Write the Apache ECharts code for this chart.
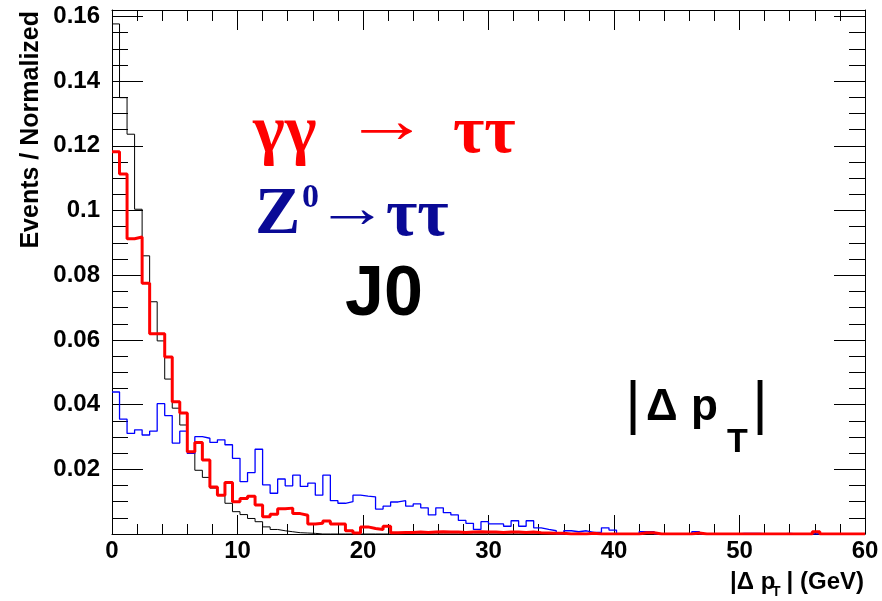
<!DOCTYPE html>
<html>
<head>
<meta charset="utf-8">
<script src="https://cdn.jsdelivr.net/npm/echarts@6/dist/echarts.min.js"></script>
<style>
  html, body { margin: 0; padding: 0; background: #fff; }
  #chart { width: 882px; height: 601px; }
</style>
</head>
<body>
<div id="chart"></div>
<script>
// 100 bins of 0.6 GeV between 0 and 60
var binWidth = 0.6;
var xTickLabels = ['0', '10', '20', '30', '40', '50', '60'];
var yTickLabels = ['0.02', '0.04', '0.06', '0.08', '0.1', '0.12', '0.14', '0.16'];

// J0 (black)
var blackJ0 = [
  0.1577, 0.1349, 0.1236, 0.1004, 0.0860, 0.0718, 0.0597, 0.0479, 0.0389, 0.0337,
  0.0254, 0.0197, 0.0175, 0.0142, 0.0120, 0.0095, 0.0069, 0.0060, 0.0048, 0.0038,
  0.0022, 0.0014, 0.0010, 0.0007, 0.0004, 0.0003, 0.0002, 0, 0, 0,
  0, 0, 0, 0, 0, 0, 0, 0, 0, 0,
  0, 0, 0, 0, 0, 0, 0, 0, 0, 0,
  0, 0, 0, 0, 0, 0, 0, 0, 0, 0,
  0, 0, 0, 0, 0, 0, 0, 0, 0, 0,
  0, 0, 0, 0, 0, 0, 0, 0, 0, 0,
  0, 0, 0, 0, 0, 0, 0, 0, 0, 0,
  0, 0, 0, 0, 0, 0, 0, 0, 0, 0
];

// gamma gamma -> tau tau (red)
var redGG = [
  0.1182, 0.1113, 0.0913, 0.0918, 0.0775, 0.0619, 0.0619, 0.0547, 0.0409, 0.0374,
  0.0254, 0.0283, 0.0229, 0.0145, 0.0120, 0.0159, 0.0100, 0.0110, 0.0117, 0.0090,
  0.0053, 0.0061, 0.0078, 0.0080, 0.0063, 0.0058, 0.0031, 0.0033, 0.0040, 0.0031,
  0.0031, 0.0010, 0.0003, 0.0022, 0.0017, 0.0014, 0.0024, 0.0004, 0.0005, 0.0005,
  0.0006, 0.0005, 0.0006, 0.0007, 0.0006, 0.0006, 0.0005, 0.0006, 0.0007, 0.0006,
  0.0006, 0.0005, 0.0006, 0.0006, 0.0005, 0.0006, 0.0004, 0.0003, 0.0002, 0.0002,
  0, 0.0001, 0, 0.0002, 0, 0, 0, 0, 0, 0,
  0.0004, 0.0004, 0, 0, 0, 0, 0, 0.0003, 0, 0,
  0, 0, 0, 0, 0, 0, 0, 0, 0, 0,
  0, 0, 0, 0.0007, 0, 0, 0, 0, 0, 0
];

// Z0 -> tau tau (blue)
var blueZ = [
  0.0439, 0.0355, 0.0311, 0.0322, 0.0306, 0.0318, 0.0403, 0.0366, 0.0281, 0.0318,
  0.0249, 0.0301, 0.0296, 0.0283, 0.0291, 0.0276, 0.0234, 0.0162, 0.0190, 0.0262,
  0.0152, 0.0126, 0.0170, 0.0149, 0.0182, 0.0147, 0.0157, 0.0120, 0.0182, 0.0103,
  0.0095, 0.0100, 0.0120, 0.0117, 0.0115, 0.0077, 0.0086, 0.0099, 0.0103, 0.0086,
  0.0093, 0.0081, 0.0059, 0.0081, 0.0066, 0.0059, 0.0042, 0.0033, 0.0014, 0.0038,
  0.0031, 0.0031, 0.0024, 0.0041, 0.0024, 0.0041, 0.0019, 0.0014, 0.0010, 0,
  0.0010, 0.0007, 0.0010, 0.0005, 0.0005, 0.0019, 0.0012, 0, 0, 0,
  0.0007, 0.0007, 0, 0, 0, 0, 0, 0.0007, 0, 0,
  0, 0, 0, 0.0002, 0.0002, 0.0002, 0, 0, 0, 0.0002,
  0, 0, 0, 0, 0, 0, 0, 0, 0, 0
];

// left bin edge + value, closed at the last edge
function toSteps(vals) {
  var pts = vals.map(function (v, i) { return [+(i * binWidth).toFixed(1), v]; });
  pts.push([+(vals.length * binWidth).toFixed(1), vals[vals.length - 1]]);
  return pts;
}

function txt(text, x, y, size, color, family, weight, align, rotation, scaleX) {
  return {
    type: 'text', x: x, y: y, rotation: rotation || 0, scaleX: scaleX || 1, silent: true,
    style: {
      text: text, fill: color, fontSize: size, fontFamily: family, fontWeight: weight,
      align: align || 'left', textAlign: align || 'left',
      verticalAlign: 'middle', textVerticalAlign: 'middle'
    }
  };
}

var sans = 'Liberation Sans';
var serif = 'Liberation Serif';
var tickColor = '#000';

function xAxisDef(pos, showLabel, tickLen, minorLen) {
  return {
    type: 'value', position: pos, min: 0, max: 60, interval: 10,
    axisLine: { show: true, onZero: false, lineStyle: { color: tickColor, width: 1 } },
    axisTick: { show: true, inside: true, length: tickLen, lineStyle: { color: tickColor, width: 1 } },
    minorTick: { show: true, splitNumber: 5, length: minorLen, lineStyle: { color: tickColor, width: 1 } },
    splitLine: { show: false },
    axisLabel: {
      show: showLabel, margin: 5, fontSize: 24, fontWeight: 'bold', fontFamily: sans, color: '#000',
      formatter: function (v) {
        var s = String(Math.round(v));
        return xTickLabels.indexOf(s) >= 0 ? s : '';
      }
    }
  };
}

function yAxisDef(pos, interval, showLine, showLabel, tickLen) {
  return {
    type: 'value', position: pos, min: 0, max: 0.162, interval: interval,
    axisLine: { show: showLine, onZero: false, lineStyle: { color: tickColor, width: 1 } },
    axisTick: { show: true, inside: true, length: tickLen, lineStyle: { color: tickColor, width: 1 } },
    splitLine: { show: false },
    axisLabel: {
      show: showLabel, margin: 12, fontSize: 24, fontWeight: 'bold', fontFamily: sans, color: '#000',
      formatter: function (v) {
        if (Math.abs(v * 50 - Math.round(v * 50)) > 1e-6) return '';
        var s = String(Math.round(v * 100) / 100);
        return yTickLabels.indexOf(s) >= 0 ? s : '';
      }
    }
  };
}

var chart = echarts.init(document.getElementById('chart'));
chart.setOption({
  animation: false,
  backgroundColor: '#fff',
  grid: { left: 112, right: 17, top: 10, bottom: 67, outerBoundsMode: 'none' },
  xAxis: [
    xAxisDef('bottom', true, 19, 10),
    xAxisDef('top', false, 20, 11)
  ],
  yAxis: [
    yAxisDef('left', 0.02, true, true, 31),
    yAxisDef('left', 0.005, false, false, 16),
    yAxisDef('right', 0.02, true, false, 31),
    yAxisDef('right', 0.005, false, false, 16)
  ],
  series: [
    {
      name: 'J0', type: 'line', step: 'end', showSymbol: false, silent: true,
      data: toSteps(blackJ0), lineStyle: { color: '#000', width: 1 }, itemStyle: { color: '#000' }
    },
    {
      name: 'Z0', type: 'line', step: 'end', showSymbol: false, silent: true,
      data: toSteps(blueZ), lineStyle: { color: '#0000ff', width: 1.3 }, itemStyle: { color: '#0000ff' }
    },
    {
      name: 'gg', type: 'line', step: 'end', showSymbol: false, silent: true,
      data: toSteps(redGG), lineStyle: { color: '#ff0000', width: 3 }, itemStyle: { color: '#ff0000' }
    }
  ],
  graphic: [
    txt('Events / Normalized', 31, 11, 25, '#000', sans, 'bold', 'right', Math.PI / 2),
    txt('|Δ p', 730, 582, 24, '#000', sans, 'bold', 'left'),
    txt('T', 772, 592, 14, '#000', sans, 'bold', 'left'),
    txt('| (GeV)', 864, 582, 24, '#000', sans, 'bold', 'right'),

    txt('γγ', 253, 134, 68, '#ff0000', serif, 'bold', 'left'),
    txt('→', 387, 125, 66, '#ff0000', serif, 'bold', 'center', 0, 1.3),
    txt('ττ', 453, 134, 68, '#ff0000', serif, 'bold', 'left'),

    txt('Z', 255, 215, 68, '#0a0a96', serif, 'bold', 'left'),
    txt('0', 302, 198, 34, '#0a0a96', serif, 'bold', 'left'),
    txt('→', 352, 212, 58, '#0a0a96', serif, 'bold', 'center', 0, 1.25),
    txt('ττ', 386, 217, 68, '#0a0a96', serif, 'bold', 'left'),

    txt('J0', 345, 296, 70, '#000', sans, 'bold', 'left'),

    txt('|', 633, 406, 60, '#000', sans, 'normal', 'center'),
    txt('Δ', 646, 408, 44, '#000', sans, 'bold', 'left'),
    txt('p', 691, 408, 44, '#000', sans, 'bold', 'left'),
    txt('T', 727, 443, 34, '#000', sans, 'bold', 'left'),
    txt('|', 760, 406, 60, '#000', sans, 'normal', 'center')
  ]
});
</script>
</body>
</html>
